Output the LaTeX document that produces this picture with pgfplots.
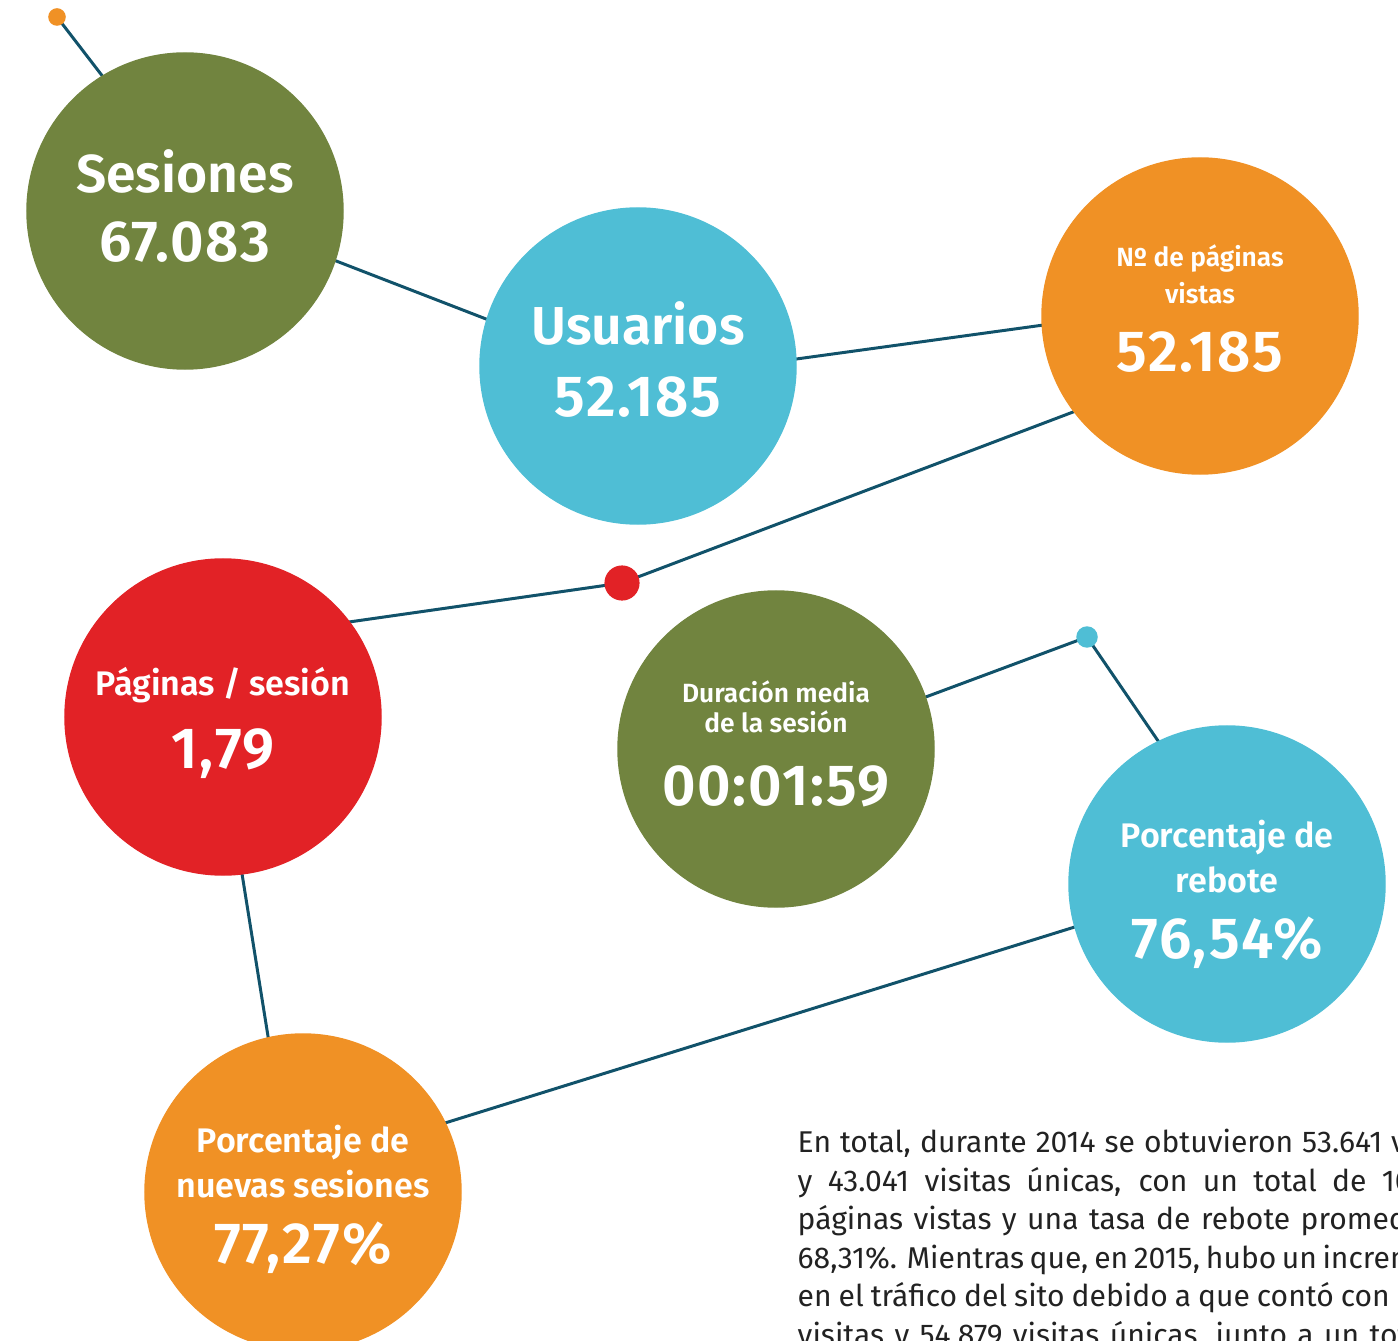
\documentclass[border=0pt]{standalone}
\usepackage{pgfplots}
\pgfplotsset{compat=1.18}
\usepackage{fontspec}
\setmainfont{Fira Sans}[BoldFont={Fira Sans SemiBold}]
\definecolor{cgreen}{HTML}{71843F}
\definecolor{ccyan}{HTML}{4FBED5}
\definecolor{corange}{HTML}{F09125}
\definecolor{cred}{HTML}{E22226}
\definecolor{cline}{HTML}{11526A}
\definecolor{ctext}{HTML}{222222}

\begin{document}
\begin{tikzpicture}[
 big/.style={text=white,anchor=base,font=\bfseries\fontsize{15.2}{18}\selectfont},
 num/.style={text=white,anchor=base,font=\bfseries\fontsize{16.5}{18}\selectfont\addfontfeatures{LetterSpace=3}},
 mid/.style={text=white,anchor=base,font=\bfseries\fontsize{9.7}{11}\selectfont},
 small/.style={text=white,anchor=base,font=\bfseries\fontsize{7.5}{9}\selectfont},
 para/.style={text=ctext,anchor=base west,inner sep=0pt,font=\fontsize{8.55}{10}\selectfont},
]
\useasboundingbox (0,0) rectangle (139.8mm,134mm);
\begin{axis}[
 at={(0,0)},anchor=south west,
 width=139.8mm,height=134mm,scale only axis,hide axis,
 xmin=0,xmax=1398,ymin=0,ymax=1340,y dir=reverse,
 clip marker paths=true,
]
% connecting lines (ends hidden under the circles)
\addplot[cline,line width=0.85pt,mark=none] coordinates {(57,17) (130,112)};
\addplot[cline,line width=0.85pt,mark=none] coordinates {(300,247) (530,336)};
\addplot[cline,line width=0.85pt,mark=none] coordinates {(760,364) (1080,320)};
\addplot[cline,line width=0.85pt,mark=none] coordinates {(1110,398) (622,583) (300,629)};
\addplot[cline,line width=0.85pt,mark=none] coordinates {(235,830) (275,1080)};
\addplot[cline,line width=0.85pt,mark=none] coordinates {(400,1137) (1110,916)};
\addplot[cline,line width=0.85pt,mark=none] coordinates {(880,714) (1087,637) (1180,773)};

% big circles, radius 158 px
\addplot[cgreen,only marks,mark=*,mark size=44.96pt,mark options={draw=none,fill=cgreen}] coordinates {(185,211) (776,749)};
\addplot[ccyan,only marks,mark=*,mark size=44.96pt,mark options={draw=none,fill=ccyan}] coordinates {(638,366) (1227,884)};
\addplot[corange,only marks,mark=*,mark size=44.96pt,mark options={draw=none,fill=corange}] coordinates {(1200,316) (303,1192)};
\addplot[cred,only marks,mark=*,mark size=44.96pt,mark options={draw=none,fill=cred}] coordinates {(223,717)};

% small dots
\addplot[corange,only marks,mark=*,mark size=2.3pt,mark options={draw=none,fill=corange}] coordinates {(57,17)};
\addplot[cred,only marks,mark=*,mark size=4.8pt,mark options={draw=none,fill=cred}] coordinates {(622,583)};
\addplot[ccyan,only marks,mark=*,mark size=2.85pt,mark options={draw=none,fill=ccyan}] coordinates {(1087,637)};

\node[big] at (axis cs:185,193) {Sesiones};
\node[num] at (axis cs:185,262) {67.083};
\node[big] at (axis cs:638,345) {Usuarios};
\node[num] at (axis cs:638,417) {52.185};
\node[small] at (axis cs:1200,267) {Nº de páginas};
\node[small] at (axis cs:1200,304) {vistas};
\node[num] at (axis cs:1200,372) {52.185};
\node[mid] at (axis cs:223,695) {Páginas / sesión};
\node[num] at (axis cs:223,768) {1,79};
\node[small] at (axis cs:776,702) {Duración media};
\node[small] at (axis cs:776,732) {de la sesión};
\node[num] at (axis cs:776,805) {00:01:59};
\node[mid] at (axis cs:1227,847) {Porcentaje de};
\node[mid] at (axis cs:1227,892) {rebote};
\node[num] at (axis cs:1227,958) {76,54\%};
\node[mid] at (axis cs:303,1152) {Porcentaje de};
\node[mid] at (axis cs:303,1197) {nuevas sesiones};
\node[num] at (axis cs:303,1263) {77,27\%};

\node[para] at (axis cs:797,1152) {\makebox[68mm][s]{En total, durante 2014 se obtuvieron 53.641 visitas}};
\node[para] at (axis cs:797,1191) {\makebox[68mm][s]{y 43.041 visitas únicas, con un total de 106.357}};
\node[para] at (axis cs:797,1229) {\makebox[68mm][s]{páginas vistas y una tasa de rebote promedio de}};
\node[para] at (axis cs:797,1268) {\makebox[68mm][s]{68,31\%. Mientras que, en 2015, hubo un incremento}};
\node[para] at (axis cs:797,1306) {\makebox[68mm][s]{en el tráfico del sito debido a que contó con 67.083}};
\node[para] at (axis cs:797,1345) {\makebox[68mm][s]{visitas y 54.879 visitas únicas, junto a un total de}};
\end{axis}
\end{tikzpicture}
\end{document}
